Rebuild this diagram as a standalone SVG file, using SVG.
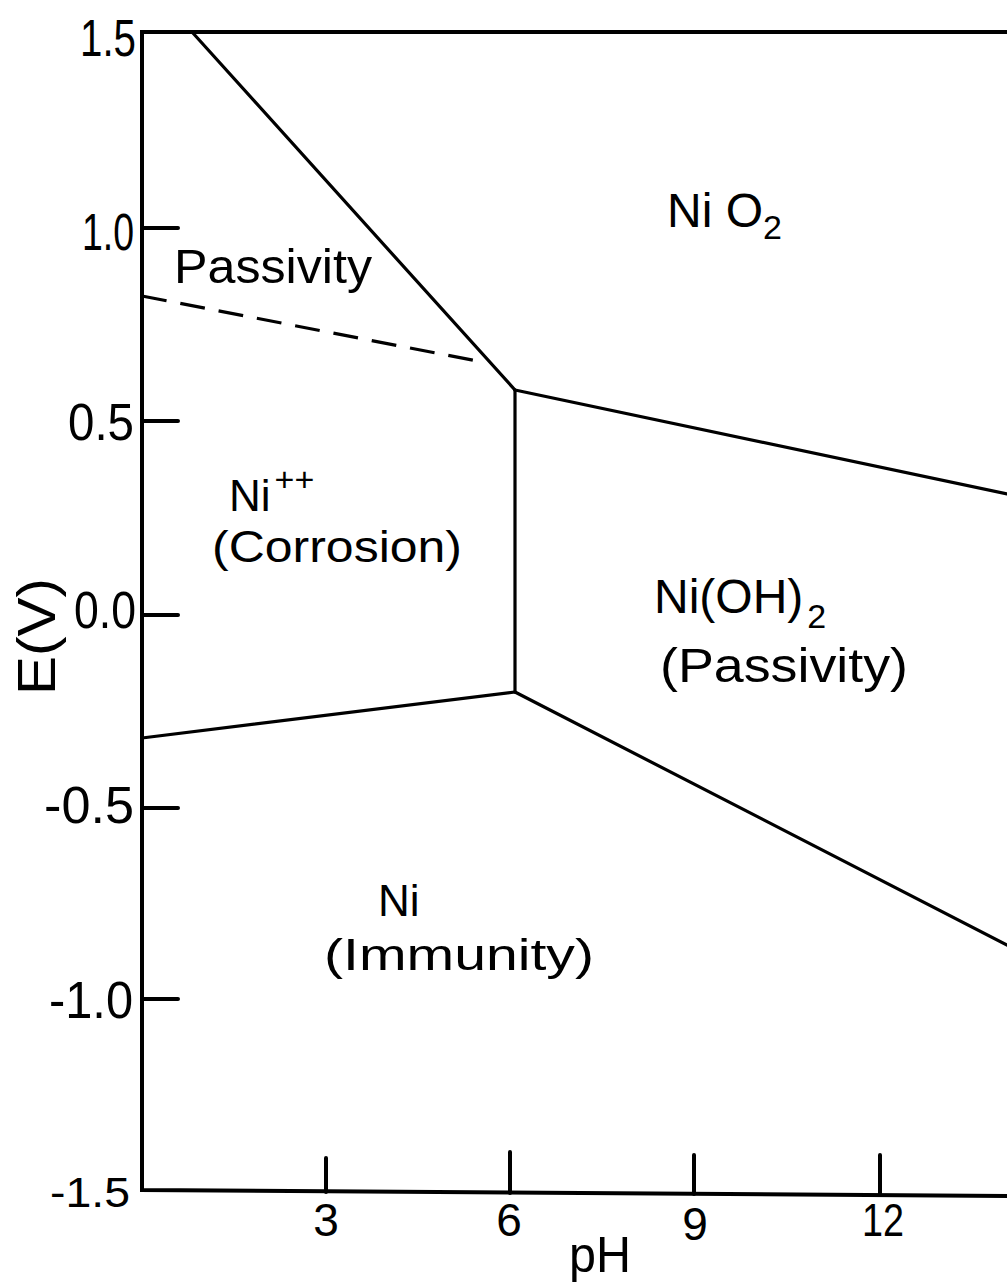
<svg xmlns="http://www.w3.org/2000/svg" width="1007" height="1288" viewBox="0 0 1007 1288">
<style>
text{font-family:"Liberation Sans","DejaVu Sans",Arial,sans-serif;fill:#000}
.ax{stroke:#000;stroke-width:4;fill:none;stroke-linecap:round}
.bd{stroke:#000;stroke-width:3.2;fill:none;stroke-linecap:round}
.dash{stroke:#000;stroke-width:3.2;fill:none;stroke-dasharray:25 14}
.tl{font-size:52px;text-anchor:end}
.xl{font-size:46px;text-anchor:middle}
.rl{font-size:48px}
.rs{font-size:44px}
.sub{font-size:34px}
</style>
<rect width="1007" height="1288" fill="#fff"/>
<g id="axes">
<path class="ax" d="M1007 32 H142 V1190 L1007 1196"/>
<path class="ax" d="M142 228 H178 M142 421 H178 M142 615 H178 M142 808 H178 M142 999 H178"/>
<path class="ax" d="M326 1158 V1192 M510 1152 V1193 M694 1155 V1194 M880 1155 V1195"/>
</g>
<g id="y-labels">
<text class="tl" x="136" y="56" textLength="56" lengthAdjust="spacingAndGlyphs">1.5</text>
<text class="tl" x="134" y="250" textLength="52" lengthAdjust="spacingAndGlyphs">1.0</text>
<text class="tl" x="134" y="440" textLength="66" lengthAdjust="spacingAndGlyphs">0.5</text>
<text class="tl" x="136" y="628" textLength="62" lengthAdjust="spacingAndGlyphs">0.0</text>
<text class="tl" x="134" y="823" textLength="90" lengthAdjust="spacingAndGlyphs">-0.5</text>
<text class="tl" x="133" y="1018" textLength="84" lengthAdjust="spacingAndGlyphs">-1.0</text>
<text class="tl" x="130" y="1207" style="font-size:42px" textLength="80" lengthAdjust="spacingAndGlyphs">-1.5</text>
<text x="55" y="695" transform="rotate(-90 55 695)" style="font-size:54px" textLength="117" lengthAdjust="spacingAndGlyphs">E(V)</text>
</g>
<g id="x-labels">
<text class="xl" x="326" y="1236">3</text>
<text class="xl" x="509" y="1236">6</text>
<text class="xl" x="695" y="1240">9</text>
<text class="xl" x="883" y="1236" textLength="42" lengthAdjust="spacingAndGlyphs">12</text>
<text class="xl" x="600" y="1272" style="font-size:50px" textLength="62" lengthAdjust="spacingAndGlyphs">pH</text>
</g>
<g id="connectors">
<path class="bd" d="M192 32 L515 390"/>
<path class="bd" d="M515 390 V692"/>
<path class="bd" d="M515 390 L1007 494"/>
<path class="bd" d="M142 738 L515 692"/>
<path class="bd" d="M515 692 L1007 945"/>
<path class="dash" d="M142 296 L477 361"/>
</g>
<g id="node-nio2">
<text class="rl" x="667" y="227">Ni O<tspan class="sub" dy="12">2</tspan></text>
</g>
<g id="node-passivity-upper">
<text class="rl" x="174" y="283" textLength="198" lengthAdjust="spacingAndGlyphs">Passivity</text>
</g>
<g id="node-ni-corrosion">
<text class="rs" x="229" y="511">Ni<tspan class="sub" dx="4" dy="-20">++</tspan></text>
<text class="rs" x="212" y="562" textLength="250" lengthAdjust="spacingAndGlyphs">(Corrosion)</text>
</g>
<g id="node-nioh2">
<text class="rl" x="654" y="613">Ni(OH)<tspan class="sub" dx="4" dy="15">2</tspan></text>
<text class="rl" x="660" y="682" textLength="248" lengthAdjust="spacingAndGlyphs">(Passivity)</text>
</g>
<g id="node-ni-immunity">
<text class="rs" x="378" y="916">Ni</text>
<text class="rs" x="324" y="970" textLength="270" lengthAdjust="spacingAndGlyphs">(Immunity)</text>
</g>
</svg>
